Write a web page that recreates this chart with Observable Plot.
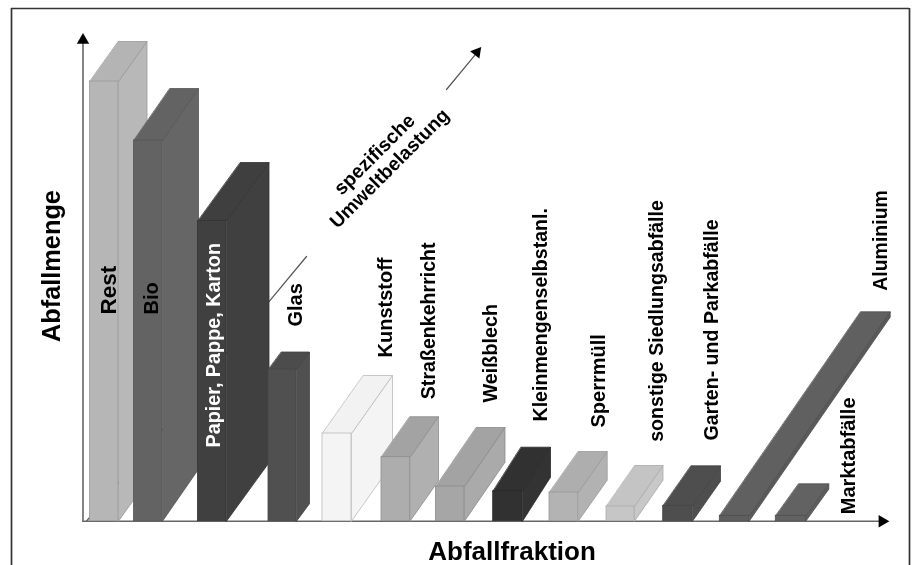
<!DOCTYPE html>
<html>
<head>
<meta charset="utf-8">
<script src="https://cdn.jsdelivr.net/npm/d3@7"></script>
<script src="https://cdn.jsdelivr.net/npm/@observablehq/plot@0.6"></script>
<style>
html,body{margin:0;padding:0;background:#fff}
svg{display:block;filter:blur(0.45px)}
</style>
</head>
<body>
<div id="chart"></div>
<script>
// Values (Abfallmenge = bar height, depth = spezifische Umweltbelastung)
const categories = ["Rest","Bio","Papier, Pappe, Karton","Glas","Kunststoff","Straßenkehrricht","Weißblech","Kleinmengenselbstanl.","Sperrmüll","sonstige Siedlungsabfälle","Garten- und Parkabfälle","Aluminium","Marktabfälle"];
const amounts    = [439.7,380.7,300.2,151.7,87.7,64,34.7,30,28.7,14.7,15.4,5.4,5.4];
const loadX      = [28.5,36,42.5,13,41,28.5,40.5,28,29,28.5,28,141,23];
const loadY      = [40,52,58.5,17.5,58,40.5,59,44,41,41,40,204,32];
const barStart   = [89.5,133.5,197.5,268,322,381,435.5,492.7,549,606,662.7,719.3,775.3];
const barEnd     = [118,162,226,296,351,409.5,464,522,577.7,634,692,748.7,805.3];
const frontFill  = ["#b6b6b6","#636363","#404040","#505050","#f4f4f4","#adadad","#a6a6a6","#313131","#b3b3b3","#c6c6c6","#4e4e4e","#5e5e5e","#626262"];
const topFill    = ["#b4b4b4","#636363","#3f3f3f","#4c4c4c","#f2f2f2","#a3a3a3","#a3a3a3","#313131","#aeaeae","#c4c4c4","#4e4e4e","#606060","#626262"];
const sideFill   = ["#b8b8b8","#666666","#404040","#505050","#f4f4f4","#b0b0b0","#aaaaaa","#333333","#b2b2b2","#c8c8c8","#4e4e4e","#5a5a5a","#5e5e5e"];
const edgeColor  = ["#999999","#555555","#333333","#444444","#bbbbbb","#8e8e8e","#8a8a8a","#2a2a2a","#999999","#aaaaaa","#444444","#4e4e4e","#505050"];
const labelX     = [108,151,213,295,385,428.6,490,540,598,656,711,880,848];
const labelFrom  = [206.7,206.7,73.7,194.7,163.7,122,118.7,99.7,93.7,79.4,80.7,230.4,7];
const labelSize  = [22.5,20,19.8,20,20,19.6,19.8,19.6,20,19.6,19.6,19.5,20];
const labelFill  = categories.map(c => c.startsWith("Papier") ? "white" : "black");

const bars = categories.map((name,i)=>({name,i,x0:barStart[i],x1:barEnd[i],h:amounts[i],dx:loadX[i],dy:loadY[i]}));
const labels = categories.map((name,i)=>({name,x:labelX[i],y:labelFrom[i],fill:labelFill[i],size:labelSize[i]}));

const font = "Liberation Sans, Arial, sans-serif";
const faceOpts = i => ({x:"x",y:"y",curve:"linear-closed",fill:null,stroke:edgeColor[i],strokeWidth:0.8});

const marks = [];

// outer frame (open at the bottom)
marks.push(Plot.ruleX([11,909],{y1:-44.3,y2:512.7,stroke:"#333",strokeWidth:1.7}));
marks.push(Plot.ruleY([512.7],{x1:11,x2:909,stroke:"#333",strokeWidth:1.7}));

// depth axis (hidden behind bars, interrupted by the label)
marks.push(Plot.line([{x:86,y:0},{x:306,y:264.7}],{x:"x",y:"y",stroke:"#555",strokeWidth:1.2}));
marks.push(Plot.line([{x:446,y:431.7},{x:476.5,y:468.5}],{x:"x",y:"y",stroke:"#555",strokeWidth:1.2}));

// axes
marks.push(Plot.ruleX([82.5],{y1:0,y2:478,stroke:"#666",strokeWidth:1.6}));
marks.push(Plot.ruleY([0],{x1:82,x2:882,stroke:"#666",strokeWidth:1.6}));

for (const b of bars) {
  const {x0,x1,h,dx,dy,i} = b;
  const side = [{x:x1,y:0},{x:x1+dx,y:dy},{x:x1+dx,y:h+dy},{x:x1,y:h}];
  const top  = [{x:x0,y:h},{x:x1,y:h},{x:x1+dx,y:h+dy},{x:x0+dx,y:h+dy}];
  marks.push(Plot.line(side,{...faceOpts(i),fill:sideFill[i]}));
  marks.push(Plot.line(top,{...faceOpts(i),fill:topFill[i]}));
  marks.push(Plot.rect([b],{x1:"x0",x2:"x1",y1:0,y2:"h",fill:frontFill[i],stroke:edgeColor[i],strokeWidth:0.8,inset:0}));
}

// axis arrowheads
marks.push(Plot.dot([{x:82.5,y:481}],{x:"x",y:"y",symbol:"triangle",r:4.6,fill:"black",rotate:0}));
marks.push(Plot.dot([{x:881.7,y:0}],{x:"x",y:"y",symbol:"triangle",r:4.6,fill:"black",rotate:90}));
marks.push(Plot.dot([{x:476.4,y:469}],{x:"x",y:"y",symbol:"triangle",r:4.4,fill:"black",rotate:39}));

// bar labels
for (const l of labels) {
  marks.push(Plot.text([l],{x:"x",y:"y",text:"name",fill:l.fill,rotate:-90,textAnchor:"start",lineAnchor:"middle",fontSize:l.size,fontWeight:"bold",fontFamily:font}));
}

// axis titles
marks.push(Plot.text(["Abfallmenge"],{x:51,y:255.2,text:d=>d,rotate:-90,textAnchor:"middle",lineAnchor:"middle",fontSize:25.3,fontWeight:"bold",fontFamily:font,fill:"black"}));
marks.push(Plot.text(["Abfallfraktion"],{x:511.5,y:-30,text:d=>d,textAnchor:"middle",lineAnchor:"middle",fontSize:26,fontWeight:"bold",fontFamily:font,fill:"black"}));
marks.push(Plot.text(["spezifische"],{x:374,y:366.7,text:d=>d,rotate:-45,textAnchor:"middle",lineAnchor:"middle",fontSize:19.5,fontWeight:"bold",fontFamily:font,fill:"black"}));
marks.push(Plot.text(["Umweltbelastung"],{x:389,y:352.7,text:d=>d,rotate:-45,textAnchor:"middle",lineAnchor:"middle",fontSize:19.3,fontWeight:"bold",fontFamily:font,fill:"black"}));

const chart = Plot.plot({
  width:912,height:565,
  marginTop:0,marginRight:0,marginBottom:0,marginLeft:0,
  x:{domain:[0,912],range:[0,912],axis:null},
  y:{domain:[-44.3,520.7],range:[565,0],axis:null},
  style:{background:"white"},
  marks
});
document.getElementById("chart").append(chart);
</script>
</body>
</html>
